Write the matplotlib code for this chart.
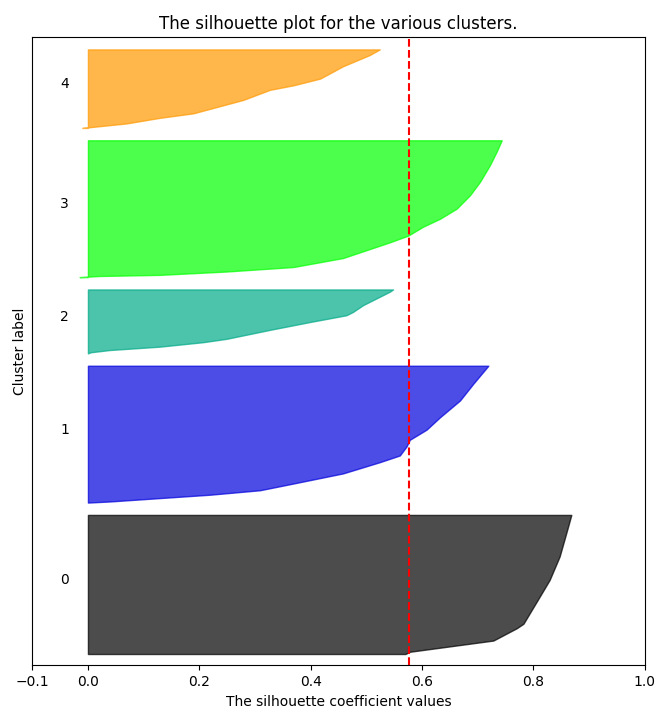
import numpy as np
import matplotlib
matplotlib.use("Agg")
import matplotlib.pyplot as plt
import matplotlib.cm as cm

# silhouette profile of each cluster
# (rank of sample inside the sorted cluster, silhouette value)
cluster_sizes = [125, 123, 58, 123, 71]

c0_rank = [0, 2, 4, 8, 12, 23, 27, 51, 66, 87, 108, 124]
c0_vals = [0.570, 0.578, 0.608, 0.668, 0.728, 0.770, 0.782, 0.811, 0.829, 0.847, 0.859, 0.868]

c1_rank = [0, 1, 4, 7, 11, 17, 26, 36, 42, 50, 56, 65, 76, 91, 106, 122]
c1_vals = [0.0, 0.040, 0.129, 0.219, 0.309, 0.369, 0.458, 0.524, 0.560, 0.572, 0.578, 0.608, 0.632, 0.668, 0.692, 0.719]

c2_rank = [0, 1, 3, 6, 10, 13, 21, 28, 34, 37, 43, 49, 55, 57]
c2_vals = [0.0, 0.005, 0.039, 0.129, 0.207, 0.249, 0.327, 0.399, 0.464, 0.476, 0.494, 0.518, 0.542, 0.548]

c3_rank = [0, 1, 2, 5, 9, 17, 27, 31, 37, 45, 52, 61, 73, 85, 100, 112, 122]
c3_vals = [-0.015, 0.020, 0.129, 0.249, 0.369, 0.458, 0.518, 0.542, 0.575, 0.602, 0.632, 0.662, 0.686, 0.704, 0.722, 0.734, 0.743]

c4_rank = [0, 1, 4, 9, 13, 17, 25, 34, 38, 44, 55, 65, 70]
c4_vals = [-0.010, 0.010, 0.069, 0.129, 0.189, 0.219, 0.279, 0.327, 0.369, 0.417, 0.458, 0.506, 0.524]

ranks = [c0_rank, c1_rank, c2_rank, c3_rank, c4_rank]
values = [c0_vals, c1_vals, c2_vals, c3_vals, c4_vals]
silhouette_avg = 0.576
n_clusters = len(cluster_sizes)

fig = plt.figure(figsize=(6.58, 7.13), dpi=100)
ax1 = fig.add_subplot(111)
fig.subplots_adjust(left=0.049, right=0.98, bottom=0.067, top=0.948)

ax1.set_xlim([-0.1, 1])
ax1.set_ylim([0, sum(cluster_sizes) + (n_clusters + 1) * 10])

y_lower = 10
for i in range(n_clusters):
    size = cluster_sizes[i]
    color = cm.nipy_spectral(float(i) / n_clusters)
    y = y_lower + np.array(ranks[i])
    ax1.fill_betweenx(y, 0, values[i], facecolor=color, edgecolor=color, alpha=0.7)
    # cluster number in the middle of its band
    ax1.text(-0.05, y_lower + 0.5 * size, str(i), fontsize=10)
    y_lower = y_lower + size + 10

ax1.set_title("The silhouette plot for the various clusters.", fontsize=12)
ax1.set_xlabel("The silhouette coefficient values", fontsize=10)
ax1.set_ylabel("Cluster label", fontsize=10)

ax1.axvline(x=silhouette_avg, color="red", linestyle="--")

ax1.set_yticks([])
ax1.set_xticks([-0.1, 0, 0.2, 0.4, 0.6, 0.8, 1])
ax1.tick_params(labelsize=10)

fig.savefig("out.png", dpi=100)
